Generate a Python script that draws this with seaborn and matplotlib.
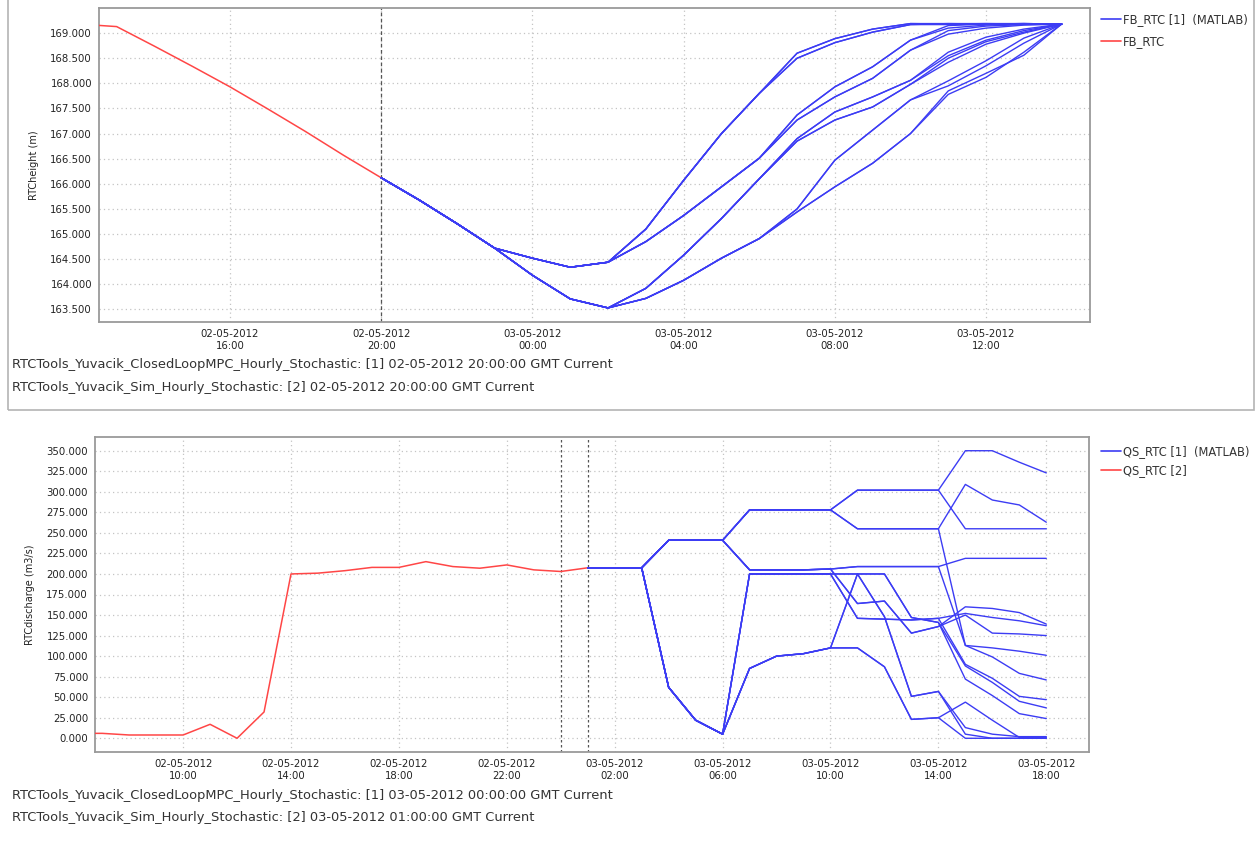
import matplotlib
matplotlib.use("Agg")
import matplotlib.pyplot as plt
import matplotlib.dates as mdates
from matplotlib.lines import Line2D
from matplotlib.patches import Rectangle
import pandas as pd
import seaborn as sns

sns.set_style("white")
plt.rcParams["font.family"] = ["DejaVu Sans"]

BLUE = "#3c3cf4"
RED = "#ff4646"

# ---------------- Forebay level (RTCheight) ----------------
fb_hist_start = "2012-05-02 12:00"
fb_hist = [169.18, 169.13, 168.74, 168.34, 167.93, 167.49, 167.04, 166.57, 166.12]

fb_fc_start = "2012-05-02 20:00"
fb_trunk = [166.12, 165.68, 165.21, 164.72]                      # 20:00-23:00
fb_lvl1 = [[164.52, 164.34, 164.44],                             # 00:00-02:00
           [164.18, 163.71, 163.53]]
fb_lvl2 = [[165.10, 166.07, 167.00, 167.80],                     # 03:00-06:00
           [164.85, 165.37, 165.94, 166.51],
           [163.92, 164.58, 165.31, 166.10],
           [163.72, 164.08, 164.52, 164.91]]
fb_lvl3 = [[168.60, 168.89, 169.08, 169.19],                     # 07:00-10:00
           [168.50, 168.81, 169.02, 169.17],
           [167.37, 167.93, 168.33, 168.86],
           [167.27, 167.73, 168.10, 168.66],
           [166.90, 167.43, 167.73, 168.06],
           [166.85, 167.27, 167.53, 167.98],
           [165.50, 166.47, 167.07, 167.67],
           [165.44, 165.94, 166.41, 167.00]]
fb_lvl4 = [[169.19, 169.19, 169.19, 169.18],                     # 11:00-14:00
           [169.18, 169.19, 169.18, 169.18],
           [169.19, 169.18, 169.19, 169.18],
           [169.17, 169.18, 169.18, 169.18],
           [169.15, 169.18, 169.19, 169.18],
           [169.10, 169.16, 169.18, 169.18],
           [169.05, 169.14, 169.17, 169.18],
           [168.98, 169.10, 169.16, 169.18],
           [168.62, 168.92, 169.08, 169.18],
           [168.55, 168.86, 169.05, 169.18],
           [168.50, 168.83, 169.02, 169.18],
           [168.42, 168.78, 169.00, 169.18],
           [168.05, 168.45, 168.90, 169.18],
           [167.95, 168.35, 168.80, 169.18],
           [167.85, 168.20, 168.56, 169.18],
           [167.78, 168.12, 168.62, 169.18]]

# ---------------- Discharge (RTCdischarge) ----------------
qs_hist_start = "2012-05-02 06:00"
qs_hist = [6, 6, 4, 4, 4, 17, 0, 32, 200, 201, 204, 208, 208, 215,
           209, 207, 211, 205, 203, 207.5]

qs_fc_start = "2012-05-03 01:00"
qs_trunk = [207.5, 207.5, 207.5]                                  # 01:00-03:00
qs_lvl1 = [[241, 241, 241],                                       # 04:00-06:00
           [62, 22, 5]]
qs_lvl2 = [[278, 278, 278, 278],                                  # 07:00-10:00
           [205, 205, 205, 206],
           [200, 200, 200, 200],
           [85, 100, 103, 110]]
qs_lvl3 = [[302, 302, 302, 302],                                  # 11:00-14:00
           [255, 255, 255, 255],
           [209, 209, 209, 209],
           [164, 167, 128, 136],
           [146, 145, 144, 146],
           [200, 200, 147, 141],
           [200, 148, 51, 57],
           [110, 87, 23, 25]]
qs_lvl4 = [[350, 350, 336, 323],                                  # 15:00-18:00
           [255, 255, 255, 255],
           [309, 290, 284, 263],
           [113, 110, 106, 101],
           [219, 219, 219, 219],
           [113, 99, 79, 71],
           [160, 158, 153, 139],
           [150, 128, 127, 125],
           [152, 147, 143, 137],
           [90, 73, 51, 47],
           [88, 68, 45, 37],
           [72, 52, 30, 24],
           [13, 5, 2, 2],
           [5, 0, 0, 0],
           [44, 22, 1, 1],
           [0, 0, 0, 0]]

fb_ticks = ["2012-05-02 16:00", "2012-05-02 20:00", "2012-05-03 00:00",
            "2012-05-03 04:00", "2012-05-03 08:00", "2012-05-03 12:00"]
qs_ticks = ["2012-05-02 10:00", "2012-05-02 14:00", "2012-05-02 18:00",
            "2012-05-02 22:00", "2012-05-03 02:00", "2012-05-03 06:00",
            "2012-05-03 10:00", "2012-05-03 14:00", "2012-05-03 18:00"]

fb_run_lines = ["RTCTools_Yuvacik_ClosedLoopMPC_Hourly_Stochastic: [1] 02-05-2012 20:00:00 GMT Current",
                "RTCTools_Yuvacik_Sim_Hourly_Stochastic: [2] 02-05-2012 20:00:00 GMT Current"]
qs_run_lines = ["RTCTools_Yuvacik_ClosedLoopMPC_Hourly_Stochastic: [1] 03-05-2012 00:00:00 GMT Current",
                "RTCTools_Yuvacik_Sim_Hourly_Stochastic: [2] 03-05-2012 01:00:00 GMT Current"]


def tree_frame(start, trunk, l1, l2, l3, l4):
    """Expand a binary scenario tree into one row per member and hour."""
    rows = []
    for k in range(len(l4)):
        vals = trunk + l1[k // 8] + l2[k // 4] + l3[k // 2] + l4[k]
        times = pd.date_range(start, periods=len(vals), freq="h")
        rows.append(pd.DataFrame({"time": times, "value": vals, "member": k}))
    return pd.concat(rows, ignore_index=True)


def hist_frame(start, vals):
    return pd.DataFrame({"time": pd.date_range(start, periods=len(vals), freq="h"),
                         "value": vals})


W, H = 1255, 849
fig = plt.figure(figsize=(W / 100, H / 100), dpi=100)
ax1 = fig.add_axes([99 / W, 1 - 322 / H, (1090 - 99) / W, (322 - 8) / H])
ax2 = fig.add_axes([95 / W, 1 - 752 / H, (1089 - 95) / W, (752 - 437) / H])

# panel frame around the upper chart
fig.add_artist(Rectangle((8 / W, 1 - 410 / H), (1254 - 8) / W, 420 / H,
                         transform=fig.transFigure, fill=False,
                         edgecolor="#b4b4b4", linewidth=1.2))

fb_df = tree_frame(fb_fc_start, fb_trunk, fb_lvl1, fb_lvl2, fb_lvl3, fb_lvl4)
qs_df = tree_frame(qs_fc_start, qs_trunk, qs_lvl1, qs_lvl2, qs_lvl3, qs_lvl4)

sns.lineplot(data=hist_frame(fb_hist_start, fb_hist), x="time", y="value",
             color=RED, lw=1.1, ax=ax1, zorder=3)
sns.lineplot(data=fb_df, x="time", y="value", units="member", estimator=None,
             color=BLUE, lw=1.0, ax=ax1, zorder=3)
sns.lineplot(data=hist_frame(qs_hist_start, qs_hist), x="time", y="value",
             color=RED, lw=1.1, ax=ax2, zorder=3)
sns.lineplot(data=qs_df, x="time", y="value", units="member", estimator=None,
             color=BLUE, lw=1.0, ax=ax2, zorder=3)

ax1.set_xlim(pd.Timestamp("2012-05-02 12:32"), pd.Timestamp("2012-05-03 14:45"))
ax1.set_ylim(163.25, 169.5)
ax1.set_yticks([163.5 + 0.5 * i for i in range(12)])
ax1.set_xticks(pd.to_datetime(fb_ticks))
ax1.axvline(pd.Timestamp("2012-05-02 20:00"), color="#555555", lw=0.9,
            ls=(0, (3, 2)), zorder=2)

ax2.set_xlim(pd.Timestamp("2012-05-02 06:44"), pd.Timestamp("2012-05-03 19:35"))
ax2.set_ylim(-16.7, 366.7)
ax2.set_yticks([25 * i for i in range(15)])
ax2.set_xticks(pd.to_datetime(qs_ticks))
for t in ["2012-05-03 00:00", "2012-05-03 01:00"]:
    ax2.axvline(pd.Timestamp(t), color="#555555", lw=0.9, ls=(0, (2, 2)), zorder=2)

for ax, ylab in [(ax1, "RTCheight (m)"), (ax2, "RTCdischarge (m3/s)")]:
    ax.xaxis.set_major_formatter(mdates.DateFormatter("%d-%m-%Y\n%H:%M"))
    ax.yaxis.set_major_formatter(matplotlib.ticker.FuncFormatter(lambda v, p: f"{v:.3f}"))
    ax.grid(True, color="#c4c4c4", lw=0.9, ls=(0, (1, 2.5)), zorder=1)
    ax.set_axisbelow(True)
    ax.tick_params(axis="both", direction="out", length=3, width=0.8,
                   color="#777777", labelsize=7.3, labelcolor="#222222", pad=2)
    for lab in ax.get_xticklabels():
        lab.set_linespacing(1.2)
    for s in ax.spines.values():
        s.set_color("#9a9a9a")
        s.set_linewidth(1.3)
    ax.set_xlabel("")
    ax.set_ylabel(ylab, fontsize=7, color="#222222", labelpad=8)

# legends to the right of each chart
ax1.legend([Line2D([], [], color=BLUE, lw=1.2), Line2D([], [], color=RED, lw=1.2)],
           ["FB_RTC [1]  (MATLAB)", "FB_RTC"],
           loc="upper left", bbox_to_anchor=(1101 / W, 1 - 13 / H),
           bbox_transform=fig.transFigure, frameon=False, fontsize=8.3,
           handlelength=1.7, handletextpad=0.2, borderpad=0, borderaxespad=0,
           labelspacing=0.75, labelcolor="#333333")
ax2.legend([Line2D([], [], color=BLUE, lw=1.2), Line2D([], [], color=RED, lw=1.2)],
           ["QS_RTC [1]  (MATLAB)", "QS_RTC [2]"],
           loc="upper left", bbox_to_anchor=(1101 / W, 1 - 445 / H),
           bbox_transform=fig.transFigure, frameon=False, fontsize=8.3,
           handlelength=1.7, handletextpad=0.2, borderpad=0, borderaxespad=0,
           labelspacing=0.5, labelcolor="#333333")

# run descriptions under each chart
for y, txt in zip([365, 387], fb_run_lines):
    fig.text(12 / W, 1 - y / H, txt, fontsize=9.4, color="#333333", va="center")
for y, txt in zip([796, 818], qs_run_lines):
    fig.text(12 / W, 1 - y / H, txt, fontsize=9.4, color="#333333", va="center")

fig.savefig("out.png", dpi=100, facecolor="white")
